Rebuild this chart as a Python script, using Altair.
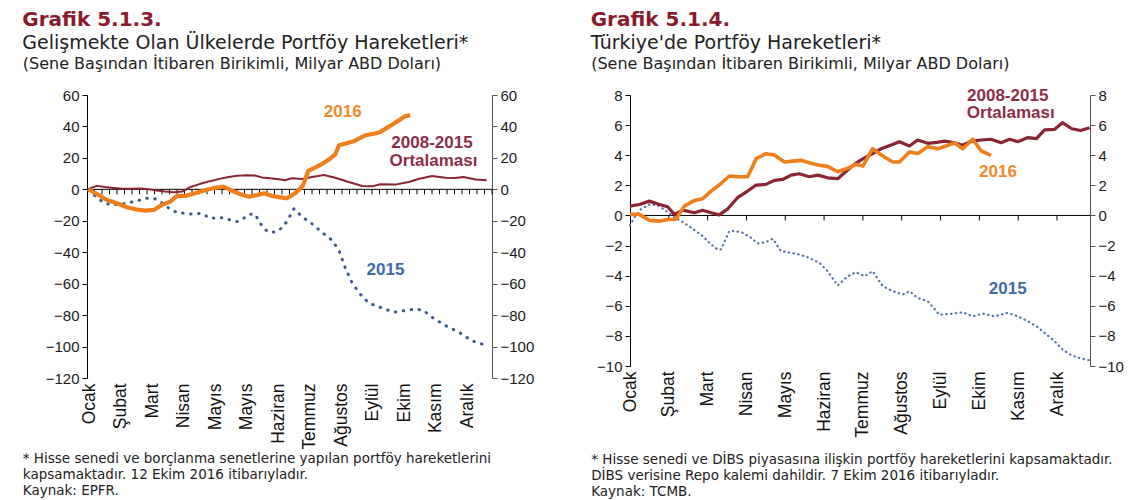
import json
import altair as alt
import pandas as pd

# ---------------- Left panel (Grafik 5.1.3) : x = week index ----------------
L16_W = [0.2, 1.56, 2.67, 4.0, 5.33, 6.44, 7.78, 8.89, 10.0, 11.1, 12.0, 13.1, 14.4, 15.6, 16.9, 18.2,
         19.1, 20.4, 21.6, 22.7, 23.6, 24.7, 25.8, 26.6, 27.3, 28.2, 28.8, 29.5, 30.4, 31.3, 32.4, 33.1,
         33.6, 34.7, 35.6, 36.7, 37.1, 38.4, 39.1, 40.2, 41.6, 42.4, 43.1]
L16_V = [0.0, -3.6, -6.8, -8.9, -11.4, -12.7, -13.5, -13.1, -9.9, -7.8, -4.2, -4.2, -2.5, -0.8, 0.8, 1.7,
         -0.4, -3.0, -4.7, -3.6, -2.5, -4.2, -5.1, -5.7, -4.0, -0.6, 2.5, 11.7, 13.8, 16.0, 19.5, 22.3,
         28.0, 29.5, 30.6, 33.4, 34.4, 35.5, 36.5, 39.7, 44.0, 46.5, 47.2]

LAVG_W = [0.2, 1.3, 2.4, 3.6, 4.7, 5.8, 7.1, 8.2, 9.3, 10.4, 11.6, 12.7, 13.8, 15.1, 16.4, 17.8, 18.9,
          20.0, 21.3, 22.4, 23.3, 24.4, 25.8, 26.4, 27.3, 28.7, 30.0, 31.6, 33.1, 34.9, 36.7, 38.0, 39.1,
          41.1, 42.9, 44.2, 46.0, 47.8, 49.1, 50.2, 51.8, 53.3]
LAVG_V = [0.3, 2.2, 1.5, 0.9, 0.3, 0.4, 0.5, 0.1, -0.8, -1.4, -1.8, -1.4, 1.5, 3.5, 5.2, 6.8, 7.8,
          8.6, 9.0, 8.8, 7.6, 7.0, 6.3, 5.8, 7.0, 6.6, 7.9, 9.1, 7.4, 4.7, 2.1, 1.9, 3.2,
          3.0, 4.7, 6.6, 8.5, 7.4, 7.2, 7.9, 6.2, 5.7]

L15_W = [0.2, 1.1, 2.2, 3.3, 4.4, 5.3, 6.2, 7.1, 8.0, 8.9, 9.8, 10.9, 12.0, 12.9, 13.8, 14.7, 15.6,
         16.2, 17.1, 18.2, 19.1, 20.0, 20.9, 21.6, 22.4, 23.1, 23.8, 24.4, 25.3, 26.2, 26.9, 27.6,
         28.7, 30.0, 31.3, 32.7, 33.6, 34.4, 35.3, 36.4, 37.6, 39.3, 40.9, 42.4, 43.8, 44.9, 46.0,
         47.8, 49.6, 51.3, 53.3]
L15_V = [-0.5, -4.2, -8.5, -10.0, -9.3, -8.9, -7.8, -6.8, -5.7, -5.7, -7.8, -12.0, -14.8, -15.2, -15.7,
         -15.2, -15.9, -18.0, -18.4, -18.0, -19.5, -20.5, -18.4, -15.9, -15.7, -21.6, -25.8, -27.5,
         -26.9, -23.7, -18.4, -12.3, -17.6, -21.9, -27.2, -32.5, -38.9, -49.5, -59.1, -66.5, -72.5,
         -75.4, -78.2, -77.1, -76.1, -77.1, -81.4, -86.7, -90.9, -96.3, -99.4]

L_MONTHS = ["Ocak", "Şubat", "Mart", "Nisan", "Mayıs", "Mayıs", "Haziran", "Temmuz", "Ağustos",
            "Eylül", "Ekim", "Kasım", "Aralık"]
L_YTICKS = [60, 40, 20, 0, -20, -40, -60, -80, -100, -120]

# ---------------- Right panel (Grafik 5.1.4) : x = month index ----------------
RAVG_M = [0, 0.24, 0.5, 0.76, 0.97, 1.14, 1.36, 1.66, 1.87, 2.09, 2.3, 2.52, 2.77, 3.03, 3.25, 3.5,
          3.72, 3.93, 4.15, 4.36, 4.62, 4.84, 5.09, 5.35, 5.57, 5.8, 6.04, 6.25, 6.47, 6.73, 6.94,
          7.2, 7.41, 7.67, 7.9, 8.1, 8.36, 8.57, 8.79, 9.05, 9.3, 9.56, 9.78, 9.99, 10.25, 10.47,
          10.68, 10.94, 11.14, 11.38, 11.61, 11.84]
RAVG_V = [0.62, 0.73, 0.95, 0.73, 0.58, 0.07, 0.35, 0.18, 0.35, 0.18, 0.04, 0.44, 1.18, 1.62, 2.02,
          2.06, 2.33, 2.39, 2.68, 2.77, 2.57, 2.68, 2.5, 2.44, 2.93, 3.44, 3.82, 4.11, 4.43, 4.68,
          4.9, 4.61, 5.01, 4.79, 4.85, 4.94, 4.83, 4.66, 4.94, 5.01, 5.06, 4.83, 5.06, 4.9, 5.17,
          5.1, 5.68, 5.72, 6.16, 5.76, 5.64, 5.82]

R16_M = [0, 0.24, 0.5, 0.76, 0.97, 1.18, 1.4, 1.66, 1.87, 2.09, 2.3, 2.56, 2.77, 3.03, 3.25, 3.5,
         3.72, 3.98, 4.19, 4.41, 4.66, 4.88, 5.09, 5.35, 5.61, 5.82, 6.0, 6.25, 6.51, 6.77, 6.94,
         7.2, 7.41, 7.67, 7.93, 8.14, 8.36, 8.57, 8.83, 9.05, 9.3]
R16_V = [0.07, 0.07, -0.33, -0.38, -0.27, -0.25, 0.62, 1.0, 1.11, 1.62, 2.02, 2.62, 2.57, 2.57, 3.77,
         4.1, 4.01, 3.55, 3.61, 3.66, 3.46, 3.33, 3.26, 2.9, 3.13, 3.39, 3.28, 4.43, 3.95, 3.55,
         3.55, 4.21, 4.12, 4.57, 4.43, 4.61, 4.83, 4.43, 5.06, 4.28, 3.99]

R15_M = [0, 0.11, 0.28, 0.5, 0.71, 0.88, 1.1, 1.36, 1.62, 1.87, 2.09, 2.26, 2.34, 2.56, 2.73, 2.9,
         3.12, 3.29, 3.5, 3.68, 3.89, 4.15, 4.36, 4.62, 4.88, 5.09, 5.35, 5.61, 5.82, 6.04, 6.25,
         6.51, 6.77, 7.03, 7.2, 7.41, 7.67, 7.97, 8.27, 8.57, 8.83, 9.09, 9.39, 9.73, 9.99, 10.25,
         10.47, 10.68, 10.94, 11.14, 11.38, 11.61, 11.84]
R15_V = [-0.67, -0.15, 0.4, 0.73, 0.67, 0.4, -0.04, -0.44, -0.89, -1.37, -1.93, -2.26, -2.26, -1.04,
         -1.04, -1.15, -1.49, -1.86, -1.77, -1.55, -2.37, -2.48, -2.59, -2.82, -3.15, -3.7, -4.65,
         -4.04, -3.77, -4.04, -3.7, -4.7, -5.03, -5.25, -5.03, -5.48, -5.7, -6.59, -6.54, -6.43,
         -6.7, -6.52, -6.7, -6.47, -6.7, -7.03, -7.36, -7.8, -8.36, -8.9, -9.3, -9.5, -9.62]

R_MONTHS = ["Ocak", "Şubat", "Mart", "Nisan", "Mayıs", "Haziran", "Temmuz", "Ağustos", "Eylül",
            "Ekim", "Kasım", "Aralık"]
R_YTICKS = [8, 6, 4, 2, 0, -2, -4, -6, -8, -10]

ORANGE = "#F07E1A"
DARKRED = "#8B2433"
BLUE_L = "#3C5A8C"
BLUE_R = "#5676A4"
TXT_RED = "#8C2E47"
TXT_ORANGE = "#F08A2C"
TXT_BLUE = "#3E6BA4"

TICK_FONT = "Liberation Sans"
TEXT_FONT = "DejaVu Sans"


def df(xs, vs):
    return pd.DataFrame({"x": xs, "v": vs})


def panel(cfg):
    xs = alt.Scale(domain=cfg["xdom"], nice=False, zero=False)
    ys = alt.Scale(domain=cfg["ydom"], nice=False, zero=False)
    names = json.dumps(cfg["months"], ensure_ascii=False)
    s, o = cfg["lab_start"], cfg["lab_step"]
    lab_expr = f"{names}[round((datum.value - {s}) / {o})]"
    lab_vals = [round(s + o * k, 3) for k in range(len(cfg["months"]))]

    bottom_axis = alt.Axis(values=lab_vals, labelExpr=lab_expr, labelAngle=270, domain=False,
                           ticks=False, grid=False, labelFont=TICK_FONT, labelFontSize=17.5,
                           labelColor="#111", labelPadding=5, labelOverlap=False,
                           title=cfg["foot"], titleFont=TEXT_FONT, titleFontSize=13.5,
                           titleFontWeight="normal", titleColor="#222", titleAnchor="start",
                           titleAlign="left", titleBaseline="middle", titleX=cfg["dx"],
                           titleY=cfg["foot_y"], titleLineHeight=16)
    top_axis = alt.Axis(orient="top", labels=False, ticks=False, domain=False, grid=False,
                        title=cfg["paren"], titleFont=TEXT_FONT, titleFontSize=16,
                        titleFontWeight="normal", titleColor="#222", titleAnchor="start",
                        titleAlign="left", titleBaseline="alphabetic", titleX=cfg["dx"],
                        titleY=-27)
    left_axis = alt.Axis(orient="left", values=cfg["yticks"], grid=False, title=None,
                         domainColor="#000", tickColor="#000", tickSize=5, labelFont=TICK_FONT,
                         labelFontSize=15, labelColor="#1a1a1a", labelPadding=3)
    right_axis = alt.Axis(orient="right", values=cfg["yticks"], grid=False, title=None,
                          domainColor="#555", tickColor="#555", tickSize=5, labelFont=TICK_FONT,
                          labelFontSize=15, labelColor="#1a1a1a", labelPadding=3)

    zero = alt.Chart(pd.DataFrame({"z": [0]})).mark_rule(color="#000", strokeWidth=1).encode(
        y=alt.Y("z:Q", scale=ys, axis=None))
    ticks = alt.Chart(pd.DataFrame({"t": cfg["ticks"], "z": 0})).mark_rule(
        color="#000", strokeWidth=1, y2Offset=5).encode(
        x=alt.X("t:Q", scale=xs, axis=None),
        y=alt.Y("z:Q", scale=ys, axis=None),
        y2="z:Q")

    s15 = alt.Chart(df(*cfg["s15"])).mark_line(
        color=cfg["blue"], strokeWidth=cfg["w15"], strokeDash=cfg["dash15"], strokeCap="round"
    ).encode(x=alt.X("x:Q", scale=xs, axis=bottom_axis),
             y=alt.Y("v:Q", scale=ys, axis=left_axis))
    savg = alt.Chart(df(*cfg["avg"])).mark_line(
        color=DARKRED, strokeWidth=cfg["wavg"], strokeJoin="round"
    ).encode(x=alt.X("x:Q", scale=xs, axis=top_axis),
             y=alt.Y("v:Q", scale=ys, axis=right_axis))
    s16 = alt.Chart(df(*cfg["s16"])).mark_line(
        color=ORANGE, strokeWidth=cfg["w16"], strokeJoin="round"
    ).encode(x=alt.X("x:Q", scale=xs, axis=None),
             y=alt.Y("v:Q", scale=ys, axis=None))

    ann = pd.DataFrame(cfg["ann"], columns=["x", "v", "t", "c"])
    labels = alt.Chart(ann).mark_text(font="Liberation Sans", fontWeight="bold", fontSize=17).encode(
        x=alt.X("x:Q", scale=xs, axis=None),
        y=alt.Y("v:Q", scale=ys, axis=None),
        text="t:N",
        color=alt.Color("c:N", scale=None))

    title = alt.TitleParams(text=cfg["title"], subtitle=cfg["subtitle"], anchor="start",
                            frame="group", dx=cfg["dx"], font=TEXT_FONT, fontSize=20,
                            fontWeight="bold", color="#8B1A2E", subtitleFont=TEXT_FONT,
                            subtitleFontSize=19, subtitleColor="#222", subtitlePadding=4,
                            offset=2)

    return alt.layer(zero, ticks, s15, savg, s16, labels).resolve_axis(
        x="independent", y="independent").properties(
        width=cfg["width"], height=cfg["height"], title=title)


left_cfg = dict(
    xdom=[0, 54], ydom=[-120, 60], yticks=L_YTICKS, months=L_MONTHS,
    lab_start=0.3, lab_step=4.2, ticks=list(range(1, 55)),
    s15=(L15_W, L15_V), avg=(LAVG_W, LAVG_V), s16=(L16_W, L16_V),
    blue=BLUE_L, w15=3, dash15=[0.5, 7.5], wavg=2, w16=4.2,
    ann=[[34.1, 49, "2016", TXT_ORANGE], [46.0, 29.4, "2008-2015", TXT_RED],
         [46.2, 18.0, "Ortalaması", TXT_RED], [39.8, -51, "2015", TXT_BLUE]],
    title="Grafik 5.1.3.", subtitle="Gelişmekte Olan Ülkelerde Portföy Hareketleri*",
    paren="(Sene Başından İtibaren Birikimli, Milyar ABD Doları)",
    foot=["* Hisse senedi ve borçlanma senetlerine yapılan portföy hareketlerini",
          "kapsamaktadır. 12 Ekim 2016 itibarıyladır.", "Kaynak: EPFR."],
    foot_y=80, dx=-64.7, width=405, height=283)

right_cfg = dict(
    xdom=[0, 11.85], ydom=[-10, 8], yticks=R_YTICKS, months=R_MONTHS,
    lab_start=0, lab_step=1, ticks=list(range(1, 12)),
    s15=(R15_M, R15_V), avg=(RAVG_M, RAVG_V), s16=(R16_M, R16_V),
    blue=BLUE_R, w15=2.2, dash15=[0.5, 4.3], wavg=3.2, w16=3.6,
    ann=[[9.73, 7.92, "2008-2015", TXT_RED], [9.81, 6.79, "Ortalaması", TXT_RED],
         [9.48, 2.86, "2016", TXT_ORANGE], [9.73, -4.86, "2015", TXT_BLUE]],
    title="Grafik 5.1.4.", subtitle="Türkiye'de Portföy Hareketleri*",
    paren="(Sene Başından İtibaren Birikimli, Milyar ABD Doları)",
    foot=["* Hisse senedi ve DİBS piyasasına ilişkin portföy hareketlerini kapsamaktadır.",
          "DİBS verisine Repo kalemi dahildir. 7 Ekim 2016 itibarıyladır.", "Kaynak: TCMB."],
    foot_y=93, dx=-39.3, width=460, height=271)

chart = alt.hconcat(panel(left_cfg), panel(right_cfg), spacing=56).properties(
    padding={"left": 22, "top": 10, "right": 5, "bottom": 2},
    background="white").configure_view(stroke=None)

chart.save("out.html", embed_options={"renderer": "svg", "actions": False})
